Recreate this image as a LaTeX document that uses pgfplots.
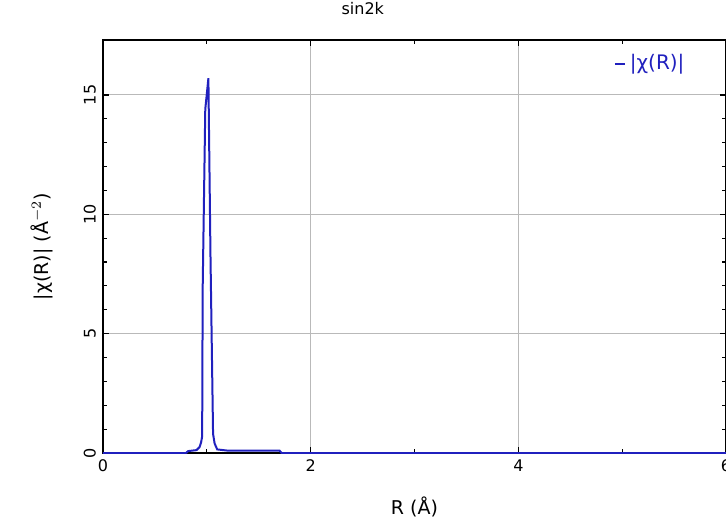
\documentclass[border=0pt]{standalone}
\usepackage{pgfplots}
\pgfplotsset{compat=1.18}
\usepackage{fontspec}
\setmainfont{DejaVu Sans}
\definecolor{chiblue}{RGB}{32,32,190}
\definecolor{gridgray}{RGB}{185,185,185}

% |chi(R)| magnitude of the Fourier transform
\pgfplotstableread{
R     chi
0.00  0.00
0.80  0.00
0.82  0.08
0.90  0.12
0.93  0.25
0.945 0.45
0.955 0.70
0.960 6.90
0.985 14.40
1.015 15.70
1.035 8.30
1.060 0.80
1.075 0.40
1.100 0.15
1.200 0.10
1.700 0.10
1.720 0.00
6.00  0.00
}\chidata

\begin{document}
\begin{tikzpicture}
\begin{axis}[
  scale only axis,
  width=311.5pt, height=206.5pt,
  xmin=0, xmax=6, ymin=0, ymax=17.3,
  xtick={0,2,4,6}, minor xtick={1,3,5},
  ytick={0,5,10,15}, minor y tick num=4,
  tick align=inside,
  major tick length=3pt, minor tick length=1.8pt,
  tick style={black, line width=0.6pt},
  axis line style={black, line width=0.8pt},
  grid=major,
  major grid style={gridgray, line width=0.5pt},
  minor grid style={draw=none},
  font=\fontsize{9}{10}\selectfont,
  ticklabel style={font=\fontsize{8}{9}\selectfont},
  /pgf/number format/assume math mode=true,
  yticklabel style={rotate=90, anchor=south},
  xlabel={R (Å)},
  ylabel={|χ(R)| (Å$^{-2}$)},
  label style={font=\fontsize{9.5}{10}\selectfont},
  xlabel style={at={(rel axis cs:0.5,0)}, anchor=center, yshift=-27pt},
  ylabel style={at={(rel axis cs:0,0.5)}, anchor=center, yshift=30.5pt},
  title={sin2k},
  title style={at={(rel axis cs:0.417,1)}, anchor=center, yshift=9.5pt,
    font=\fontsize{8}{9}\selectfont},
  legend style={draw=none, fill=none, at={(rel axis cs:0.95,0.985)},
    anchor=north east, font=\fontsize{10}{11}\selectfont\color{chiblue}},
  legend image code/.code={\draw[#1] (0pt,0pt) -- (5pt,0pt);},
]
\addplot[chiblue, line width=1pt, sharp plot] table[x=R, y=chi] {\chidata};
\addlegendentry{|χ(R)|}
\coordinate (bl) at (rel axis cs:0,0);
\coordinate (tr) at (rel axis cs:1,1);
\end{axis}
\pgfresetboundingbox
\path[use as bounding box] ([xshift=-51.5pt, yshift=-35.5pt]bl) rectangle ([yshift=20pt]tr);
\end{tikzpicture}
\end{document}
